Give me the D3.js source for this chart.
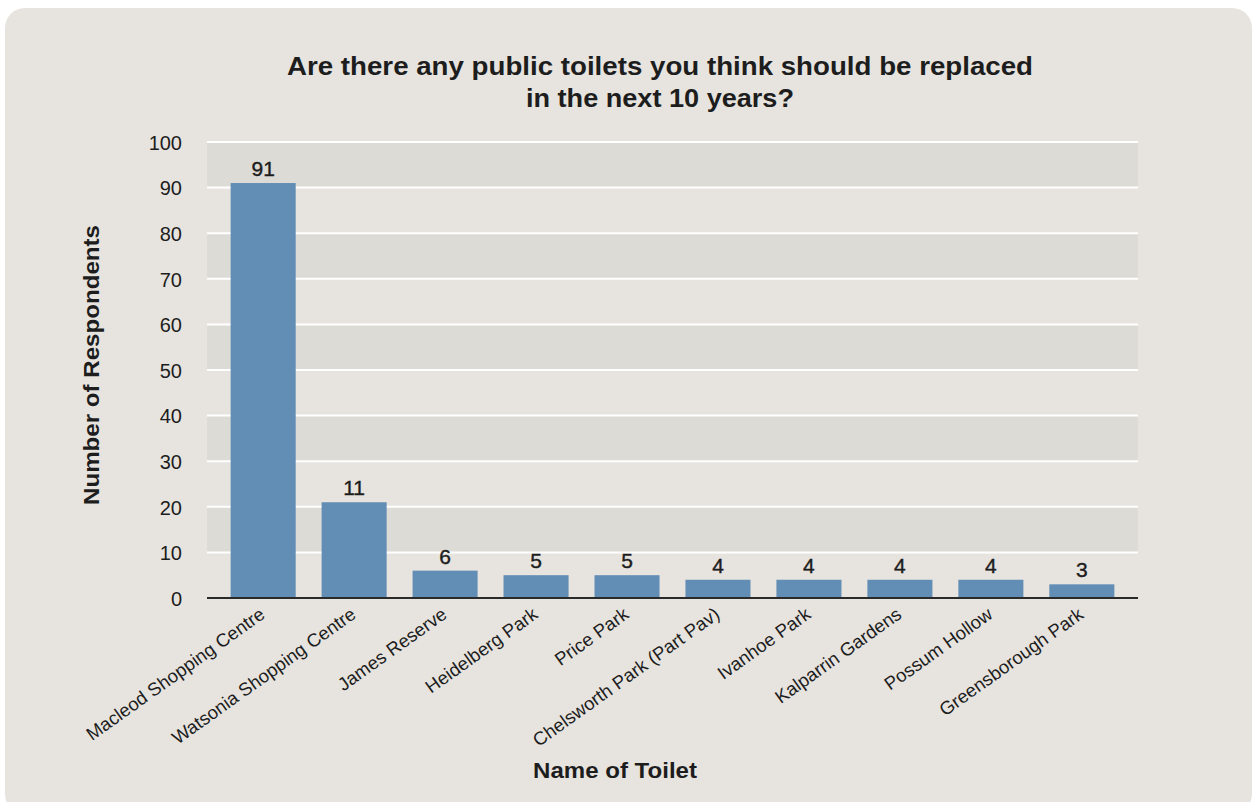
<!DOCTYPE html>
<html><head><meta charset="utf-8">
<script src="https://cdn.jsdelivr.net/npm/d3@7"></script>
<style>
html,body{margin:0;padding:0;background:#ffffff;}
svg{display:block;}
text{font-family:"Liberation Sans","Helvetica Neue",Arial,sans-serif;fill:#1d1d1d;}
</style></head>
<body>
<svg id="chart" width="1256" height="802"></svg>
<script>
const categories = ["Macleod Shopping Centre","Watsonia Shopping Centre","James Reserve","Heidelberg Park","Price Park","Chelsworth Park (Part Pav)","Ivanhoe Park","Kalparrin Gardens","Possum Hollow","Greensborough Park"];
const barValues = [91, 21, 6, 5, 5, 4, 4, 4, 4, 3];
const labelValues = ["91","11","6","5","5","4","4","4","4","3"];
const yTicks = [0,10,20,30,40,50,60,70,80,90,100];
const titleLines = ["Are there any public toilets you think should be replaced","in the next 10 years?"];
const yTitle = "Number of Respondents";
const xTitle = "Name of Toilet";

const svg = d3.select("#chart");
svg.append("rect").attr("x",5).attr("y",8).attr("width",1247).attr("height",806).attr("rx",20).attr("fill","#e7e4df");

const x0 = 207, x1 = 1138, yTop = 142, yBot = 598;
const x = d3.scaleBand().domain(categories).range([x0,x1]).paddingInner(0.285).paddingOuter(0.26);
const y = d3.scaleLinear().domain([0,100]).range([yBot,yTop]);

// alternating bands
const bands = [10,30,50,70,90];
svg.append("g").selectAll("rect").data(bands).join("rect")
  .attr("x",x0).attr("width",x1-x0)
  .attr("y",d=>y(d+10)).attr("height",d=>y(d)-y(d+10))
  .attr("fill","#dcdbd6");
// gridlines
svg.append("g").selectAll("line").data(yTicks.filter(d=>d>0)).join("line")
  .attr("x1",x0).attr("x2",x1).attr("y1",d=>y(d)).attr("y2",d=>y(d))
  .attr("stroke","#ffffff").attr("stroke-width",2);

// y axis
const yAxis = svg.append("g").attr("transform",`translate(${x0},0)`)
  .call(d3.axisLeft(y).tickValues(yTicks).tickSize(0).tickPadding(25));
yAxis.select(".domain").remove();
yAxis.selectAll("text").style("font-size","20px").attr("fill","#1d1d1d").attr("dy","0.36em");

// bars
svg.append("g").selectAll("rect").data(categories).join("rect")
  .attr("x",d=>x(d)).attr("width",x.bandwidth())
  .attr("y",(d,i)=>y(barValues[i])).attr("height",(d,i)=>y(0)-y(barValues[i]))
  .attr("fill","#628db4");

// value labels
svg.append("g").selectAll("text").data(categories).join("text")
  .attr("x",d=>x(d)+x.bandwidth()/2).attr("y",(d,i)=>y(barValues[i])-7)
  .attr("text-anchor","middle").style("font-size","21px")
  .style("stroke","#1d1d1d").style("stroke-width","0.4px")
  .text((d,i)=>labelValues[i]);

// x axis
const xAxis = svg.append("g").attr("transform",`translate(0,${yBot})`)
  .call(d3.axisBottom(x).tickSize(0).tickPadding(0));
xAxis.select(".domain").attr("stroke","#2a2a2a").attr("stroke-width",2).attr("d",`M${x0},0H${x1}`);
xAxis.selectAll("text")
  .attr("text-anchor","end").attr("dy",0).attr("y",0)
  .attr("transform","translate(3,19) rotate(-35.5)")
  .style("font-size","18.5px").attr("fill","#1d1d1d");

// titles
const t = svg.append("text").attr("text-anchor","middle").style("font-size","26px").style("font-weight","bold");
t.append("tspan").attr("x",660).attr("y",75).attr("textLength",746).attr("lengthAdjust","spacingAndGlyphs").text(titleLines[0]);
t.append("tspan").attr("x",660).attr("y",107).attr("textLength",268).attr("lengthAdjust","spacingAndGlyphs").text(titleLines[1]);

svg.append("text").attr("transform","translate(99,365) rotate(-90)").attr("text-anchor","middle")
  .style("font-size","22px").style("font-weight","bold")
  .attr("textLength",280).attr("lengthAdjust","spacingAndGlyphs").text(yTitle);
svg.append("text").attr("x",615).attr("y",778).attr("text-anchor","middle")
  .style("font-size","22px").style("font-weight","bold")
  .attr("textLength",164).attr("lengthAdjust","spacingAndGlyphs").text(xTitle);
</script>
</body></html>
